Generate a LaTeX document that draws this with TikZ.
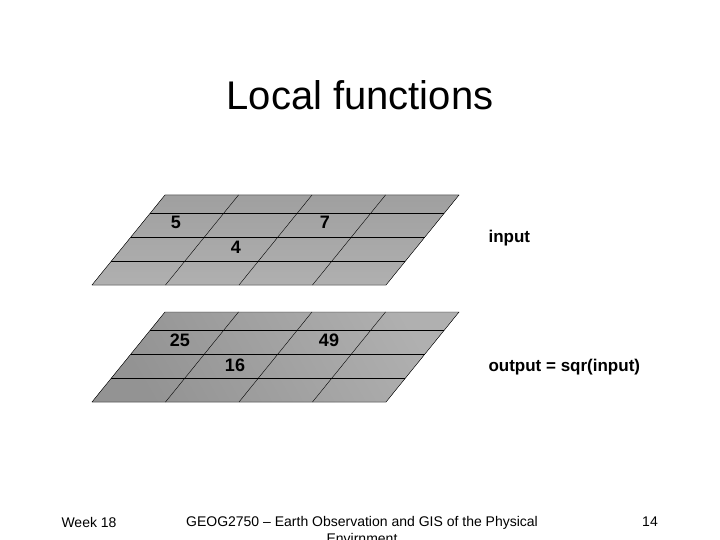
\documentclass[tikz,border=0pt]{standalone}
\usepackage{fontspec}
\setmainfont{Liberation Sans}
\usetikzlibrary{positioning}
\tikzset{
  cellnum/.style={font=\fontsize{18}{20}\selectfont\bfseries},
  sidelabel/.style={font=\fontsize{17}{19}\selectfont\bfseries, anchor=west},
  foot/.style={font=\fontsize{14}{16}\selectfont}
}
% one layer: top edge y, fill options
\newcommand{\layer}[3]{%
  \coordinate (#1tl) at (165,#2);
  \coordinate (#1tr) at (459,#2);
  \coordinate (#1br) at (386,#2+90);
  \coordinate (#1bl) at (92,#2+90);
  \fill[#3] (#1tl) -- (#1tr) -- (#1br) -- (#1bl) -- cycle;
  \foreach \dy in {18,42,66} {
    \draw (165-0.811*\dy,#2+\dy) -- (459-0.811*\dy,#2+\dy);
  }
  \foreach \dx in {73.5,147,220.5} {
    \draw (165+\dx,#2) -- (92+\dx,#2+90);
  }
  \draw (#1tl) -- (#1tr) -- (#1br) -- (#1bl) -- cycle;
}
\begin{document}
\begin{tikzpicture}[x=1pt,y=-1pt]
\useasboundingbox (0,0) rectangle (720,540);
\node (title) at (360,95) {\fontsize{40}{44}\selectfont Local functions};
% input layer
\layer{in}{195}{top color=gray!75, bottom color=gray!62}
\node[cellnum] (inA) at (176,222) {5};
\node[cellnum] (inB) at (325,222) {7};
\node[cellnum] (inC) at (236,247) {4};
\node[sidelabel] (inlab) at (485,238) {input};
% output layer
\layer{out}{312}{left color=gray!115!black, right color=gray!62, shading angle=120}
\node[cellnum] (outA) at (180,340) {25};
\node[cellnum] (outB) at (329,340) {49};
\node[cellnum] (outC) at (235,365) {16};
\node[sidelabel] (outlab) at (485,367) {output = sqr(input)};
% footer
\node[foot] (week) at (89,522) {Week 18};
\node[foot] (course) at (362,523) {GEOG2750 -- Earth Observation and GIS of the Physical};
\node[foot, below=-3pt of course] (course2) {Envirnment};
\node[foot] (page) at (650,522) {14};
\end{tikzpicture}
\end{document}
